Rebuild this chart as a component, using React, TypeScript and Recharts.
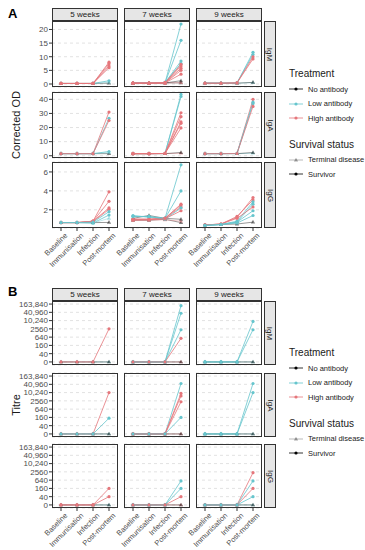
import { LineChart, Line, XAxis, YAxis, CartesianGrid } from 'recharts';

// treatment (N = no, L = low, H = high antibody), survival (T = terminal disease, S = survivor),
// then Baseline, Immunisation, Infection, Post-mortem
type Row = [string, string, number, number, number, number];

const stages = ['Baseline', 'Immunisation', 'Infection', 'Post-mortem'];
const weekLabels = ['5 weeks', '7 weeks', '9 weeks'];
const isotypes = ['IgM', 'IgA', 'IgG'];

// A: corrected OD
const odIgM5: Row[] = [
  ['N', 'T', 0.2, 0.2, 0.2, 0.3],
  ['L', 'T', 0.2, 0.2, 0.2, 0.6],
  ['L', 'S', 0.2, 0.2, 0.2, 1.2],
  ['H', 'S', 0.2, 0.2, 0.2, 8.0],
  ['H', 'S', 0.2, 0.2, 0.2, 7.4],
  ['H', 'S', 0.2, 0.2, 0.2, 6.6],
  ['H', 'S', 0.2, 0.2, 0.2, 6.0],
];
const odIgM7: Row[] = [
  ['N', 'T', 0.3, 0.3, 0.4, 0.4],
  ['H', 'T', 0.3, 0.3, 0.4, 0.5],
  ['N', 'T', 0.3, 0.3, 0.4, 1.2],
  ['L', 'S', 0.3, 0.3, 0.4, 22],
  ['L', 'S', 0.3, 0.3, 0.4, 16],
  ['L', 'S', 0.3, 0.3, 0.5, 8.4],
  ['L', 'S', 0.3, 0.3, 0.5, 7.5],
  ['H', 'S', 0.3, 0.3, 0.4, 7.2],
  ['H', 'S', 0.3, 0.3, 0.4, 6.6],
  ['H', 'S', 0.3, 0.3, 0.4, 5.8],
  ['H', 'S', 0.3, 0.3, 0.4, 5.0],
  ['H', 'S', 0.3, 0.3, 0.4, 3.6],
];
const odIgM9: Row[] = [
  ['L', 'T', 0.3, 0.3, 0.3, 0.5],
  ['N', 'T', 0.3, 0.3, 0.3, 0.6],
  ['L', 'S', 0.3, 0.3, 0.4, 11.6],
  ['L', 'S', 0.3, 0.3, 0.4, 10.8],
  ['H', 'S', 0.3, 0.3, 0.4, 10.0],
  ['H', 'S', 0.3, 0.3, 0.4, 9.2],
];
const odIgA5: Row[] = [
  ['N', 'T', 1.5, 1.5, 1.5, 1.5],
  ['L', 'T', 1.5, 1.5, 1.5, 2.2],
  ['L', 'S', 1.5, 1.5, 1.5, 3.0],
  ['H', 'S', 1.5, 1.5, 1.5, 31],
  ['L', 'S', 1.5, 1.5, 1.5, 26.5],
  ['H', 'S', 1.5, 1.5, 1.5, 25],
];
const odIgA7: Row[] = [
  ['H', 'T', 1.5, 1.5, 1.5, 1.8],
  ['N', 'T', 1.5, 1.5, 1.5, 2.3],
  ['L', 'S', 1.5, 1.5, 1.6, 43.5],
  ['L', 'S', 1.5, 1.5, 1.6, 42],
  ['H', 'S', 1.5, 1.5, 1.6, 30.5],
  ['H', 'S', 1.5, 1.5, 1.6, 27.7],
  ['H', 'S', 1.5, 1.5, 1.6, 24],
  ['H', 'S', 1.5, 1.5, 1.6, 23],
  ['H', 'S', 1.5, 1.5, 1.6, 19.7],
];
const odIgA9: Row[] = [
  ['L', 'T', 1.5, 1.5, 1.5, 1.8],
  ['N', 'T', 1.5, 1.5, 1.5, 2.3],
  ['H', 'S', 1.5, 1.5, 1.6, 40],
  ['L', 'S', 1.5, 1.5, 1.6, 38],
  ['L', 'S', 1.5, 1.5, 1.6, 37],
  ['H', 'S', 1.5, 1.5, 1.6, 35],
];
const odIgG5: Row[] = [
  ['N', 'T', 0.65, 0.65, 0.65, 0.67],
  ['L', 'T', 0.65, 0.65, 0.6, 1.1],
  ['H', 'S', 0.65, 0.65, 0.8, 3.9],
  ['H', 'S', 0.65, 0.65, 0.8, 2.9],
  ['H', 'S', 0.65, 0.65, 0.8, 2.2],
  ['H', 'S', 0.65, 0.65, 0.75, 2.05],
  ['L', 'S', 0.65, 0.65, 0.7, 1.8],
  ['L', 'S', 0.65, 0.65, 0.6, 1.45],
];
const odIgG7: Row[] = [
  ['N', 'T', 0.9, 0.9, 1.0, 0.65],
  ['H', 'T', 0.9, 0.9, 0.95, 0.8],
  ['N', 'T', 1.1, 1.4, 1.1, 1.0],
  ['L', 'S', 1.3, 1.3, 1.1, 6.75],
  ['L', 'S', 1.4, 1.2, 1.1, 4.0],
  ['H', 'S', 1.0, 1.0, 1.1, 2.6],
  ['H', 'S', 1.0, 1.0, 1.1, 2.5],
  ['H', 'S', 1.0, 1.0, 1.1, 2.3],
  ['L', 'S', 1.3, 1.3, 1.0, 2.2],
  ['H', 'S', 0.9, 0.95, 1.05, 1.9],
];
const odIgG9: Row[] = [
  ['N', 'T', 0.4, 0.45, 0.5, 0.7],
  ['H', 'S', 0.4, 0.5, 1.2, 3.3],
  ['H', 'S', 0.4, 0.5, 1.3, 3.05],
  ['L', 'S', 0.35, 0.45, 0.8, 2.85],
  ['L', 'S', 0.35, 0.45, 0.7, 2.6],
  ['H', 'S', 0.4, 0.5, 1.1, 2.3],
  ['L', 'S', 0.35, 0.45, 0.7, 1.9],
  ['L', 'S', 0.35, 0.45, 0.6, 1.4],
];

// B: titres
const tIgM5: Row[] = [
  ['L', 'T', 0, 0, 0, 0],
  ['N', 'T', 0, 0, 0, 0],
  ['H', 'S', 0, 0, 0, 2560],
];
const tIgM7: Row[] = [
  ['H', 'T', 0, 0, 0, 0],
  ['N', 'T', 0, 0, 0, 0],
  ['L', 'S', 0, 0, 0, 124000],
  ['L', 'S', 0, 0, 0, 35000],
  ['L', 'S', 0, 0, 0, 2200],
  ['H', 'S', 0, 0, 0, 520],
];
const tIgM9: Row[] = [
  ['L', 'T', 0, 0, 0, 0],
  ['N', 'T', 0, 0, 0, 0],
  ['L', 'S', 0, 0, 0, 8900],
  ['L', 'S', 0, 0, 0, 2200],
];
const tIgA5: Row[] = [
  ['L', 'T', 0, 0, 0, 0],
  ['N', 'T', 0, 0, 0, 0],
  ['H', 'S', 0, 0, 0, 10240],
  ['L', 'S', 0, 0, 0, 140],
];
const tIgA7: Row[] = [
  ['H', 'T', 0, 0, 0, 0],
  ['N', 'T', 0, 0, 0, 0],
  ['L', 'S', 0, 0, 0, 47000],
  ['H', 'S', 0, 0, 0, 8900],
  ['H', 'S', 0, 0, 0, 5900],
  ['H', 'S', 0, 0, 0, 2200],
  ['L', 'S', 0, 0, 0, 160],
];
const tIgA9: Row[] = [
  ['L', 'T', 0, 0, 0, 0],
  ['N', 'T', 0, 0, 0, 0],
  ['L', 'S', 0, 0, 0, 47000],
  ['L', 'S', 0, 0, 0, 10240],
];
const tIgG5: Row[] = [
  ['L', 'T', 0, 0, 0, 0],
  ['N', 'T', 0, 0, 0, 0],
  ['H', 'S', 0, 0, 0, 160],
  ['H', 'S', 0, 0, 0, 40],
];
const tIgG7: Row[] = [
  ['H', 'T', 0, 0, 0, 0],
  ['N', 'T', 0, 0, 0, 0],
  ['L', 'S', 0, 0, 0, 560],
  ['L', 'S', 0, 0, 0, 160],
  ['H', 'S', 0, 0, 0, 40],
];
const tIgG9: Row[] = [
  ['L', 'T', 0, 0, 0, 0],
  ['N', 'T', 0, 0, 0, 0],
  ['H', 'S', 0, 0, 0, 2230],
  ['L', 'S', 0, 0, 0, 560],
  ['H', 'S', 0, 0, 0, 160],
  ['L', 'S', 0, 0, 0, 40],
];

const odTicks = [[0, 5, 10, 15, 20], [0, 10, 20, 30, 40], [2, 4, 6]];
const odDomains = [[-1.1, 23.1], [-1.6, 45.2], [0.08, 7.05]];
const titreTicks = [0, 40, 160, 640, 2560, 10240, 40960, 163840];
const titreLabels = ['0', '40', '160', '640', '2560', '10,240', '40,960', '163,840'];

const treatments = [
  { key: 'N', name: 'No antibody', color: '#000000' },
  { key: 'L', name: 'Low antibody', color: '#66C5CD' },
  { key: 'H', name: 'High antibody', color: '#E5767B' },
];
const colorOf = (k: string) => treatments.find((t) => t.key === k)!.color;

// titre axis is stepped in fourfold dilutions starting from 10, with 0 at the bottom
const titreStep = (v: number) => (v <= 0 ? 0 : Math.log(v / 10) / Math.log(4));

const colX = [52, 124, 196];
const panelW = 66;
const yAxisW = 52;
const xAxisH = 62;
const padTop = 6;
const padLeft = 40; // room for rotated stage labels of the panels without a y axis
const font = '"Liberation Sans", Arial, sans-serif';

const makeDot = (color: string, tri: boolean, op: number) => (p: any) => {
  const { cx, cy, index } = p;
  if (cx == null || cy == null) return <g key={index} />;
  return tri ? (
    <polygon
      key={index}
      points={`${cx},${cy - 2.3} ${cx - 2.1},${cy + 1.4} ${cx + 2.1},${cy + 1.4}`}
      fill={color}
      fillOpacity={op}
    />
  ) : (
    <circle key={index} cx={cx} cy={cy} r={1.6} fill={color} fillOpacity={op} />
  );
};

const StageTick = (p: any) => {
  const { x, y, payload } = p;
  return (
    <text
      x={x + 3}
      y={y + 1}
      transform={`rotate(-45 ${x + 3} ${y + 1})`}
      textAnchor="end"
      dominantBaseline="hanging"
      fontSize={7.5}
      fill="#4d4d4d"
      fontFamily={font}
    >
      {payload.value}
    </text>
  );
};

type PanelProps = {
  rows: Row[];
  x: number;
  y: number;
  h: number;
  showY: boolean;
  showX: boolean;
  domain: number[];
  ticks: number[];
  tf: (v: number) => number;
  fmt: (v: number) => string;
};

function Panel({ rows, x, y, h, showY, showX, domain, ticks, tf, fmt }: PanelProps) {
  const data = stages.map((stage, si) => {
    const o: any = { stage };
    rows.forEach((r, i) => {
      o[`s${i}`] = tf(r[si + 2] as number);
    });
    return o;
  });
  const mLeft = showY ? 0 : padLeft;
  const left = x - (showY ? yAxisW : padLeft);
  const width = panelW + (showY ? yAxisW : padLeft) + 2;
  const height = h + padTop * 2 + (showX ? xAxisH : 0);
  return (
    <>
      <div style={{ position: 'absolute', left, top: y - padTop }}>
        <LineChart
          width={width}
          height={height}
          data={data}
          margin={{ top: padTop, right: 2, bottom: padTop, left: mLeft }}
        >
          <CartesianGrid vertical={false} stroke="#e2e2e2" strokeDasharray="3 3" />
          <XAxis
            dataKey="stage"
            type="category"
            padding={{ left: 9, right: 9 }}
            hide={!showX}
            height={xAxisH}
            interval={0}
            tick={<StageTick />}
            tickSize={3}
            tickMargin={0}
            axisLine={false}
            tickLine={{ stroke: '#333' }}
          />
          <YAxis
            type="number"
            domain={domain}
            ticks={ticks}
            allowDataOverflow
            interval={0}
            hide={!showY}
            width={yAxisW}
            tickSize={3}
            tickMargin={1}
            axisLine={false}
            tickLine={{ stroke: '#333' }}
            tick={{ fontSize: 8, fill: '#4d4d4d', fontFamily: font }}
            tickFormatter={fmt}
          />
          {rows.map((r, i) => {
            const c = colorOf(r[0]);
            const term = r[1] === 'T';
            const op = term ? 0.5 : 1;
            return (
              <Line
                key={i}
                dataKey={`s${i}`}
                stroke={c}
                strokeOpacity={op}
                strokeWidth={0.8}
                dot={makeDot(c, term, op)}
                activeDot={false}
                isAnimationActive={false}
              />
            );
          })}
        </LineChart>
      </div>
      <div
        style={{
          position: 'absolute',
          left: x,
          top: y,
          width: panelW,
          height: h,
          border: '1px solid #333',
          boxSizing: 'border-box',
          pointerEvents: 'none',
        }}
      />
    </>
  );
}

const stripStyle = {
  position: 'absolute' as const,
  background: '#e6e6e6',
  border: '1px solid #333',
  boxSizing: 'border-box' as const,
  fontSize: 8,
  color: '#1a1a1a',
  display: 'flex',
  alignItems: 'center',
  justifyContent: 'center',
};

type SectionProps = {
  letter: string;
  top: number;
  rowsY: number[];
  h: number;
  grid: Row[][][];
  titre: boolean;
  title: string;
};

function Section({ letter, top, rowsY, h, grid, titre, title }: SectionProps) {
  const yMid = (rowsY[0] + rowsY[2] + h) / 2;
  return (
    <>
      <div style={{ position: 'absolute', left: 8, top, fontSize: 13, fontWeight: 'bold' }}>{letter}</div>
      <div
        style={{
          position: 'absolute',
          left: 16,
          top: yMid,
          transform: 'translate(-50%, -50%) rotate(-90deg)',
          fontSize: 11,
          whiteSpace: 'nowrap',
          color: '#1a1a1a',
        }}
      >
        {title}
      </div>
      {isotypes.map((iso, ri) =>
        weekLabels.map((w, ci) => (
          <Panel
            key={`${iso}-${w}`}
            rows={grid[ri][ci]}
            x={colX[ci]}
            y={rowsY[ri]}
            h={h}
            showY={ci === 0}
            showX={ri === 2}
            domain={titre ? [-0.37, 7.37] : odDomains[ri]}
            ticks={titre ? titreTicks.map((_, i) => i) : odTicks[ri]}
            tf={titre ? titreStep : (v) => v}
            fmt={titre ? (v) => titreLabels[v] ?? '' : (v) => String(v)}
          />
        ))
      )}
      {weekLabels.map((w, ci) => (
        <div key={w} style={{ ...stripStyle, left: colX[ci], top: rowsY[0] - 13, width: panelW, height: 13 }}>
          {w}
        </div>
      ))}
      {isotypes.map((iso, ri) => (
        <div key={iso} style={{ ...stripStyle, left: 264, top: rowsY[ri], width: 12, height: h }}>
          <span style={{ transform: 'rotate(90deg)', whiteSpace: 'nowrap' }}>{iso}</span>
        </div>
      ))}
    </>
  );
}

function LegendGlyph({ color, tri, op }: { color: string; tri: boolean; op: number }) {
  return (
    <svg width={14} height={8} style={{ marginRight: 5, flexShrink: 0 }}>
      <line x1={0} y1={4} x2={14} y2={4} stroke={color} strokeOpacity={op} strokeWidth={0.8} />
      {tri ? (
        <polygon points="7,1.7 4.9,5.4 9.1,5.4" fill={color} fillOpacity={op} />
      ) : (
        <circle cx={7} cy={4} r={1.6} fill={color} fillOpacity={op} />
      )}
    </svg>
  );
}

function Legend({ top }: { top: number }) {
  const item = {
    display: 'flex',
    alignItems: 'center',
    height: 14.5,
    fontSize: 7.5,
    color: '#1a1a1a',
    whiteSpace: 'nowrap' as const,
  };
  return (
    <div style={{ position: 'absolute', left: 289, top, width: 76 }}>
      <div style={{ fontSize: 10, marginBottom: 3, color: '#1a1a1a', whiteSpace: 'nowrap' }}>Treatment</div>
      {treatments.map((t) => (
        <div key={t.key} style={item}>
          <LegendGlyph color={t.color} tri={false} op={1} />
          {t.name}
        </div>
      ))}
      <div style={{ fontSize: 10, marginTop: 13, marginBottom: 3, color: '#1a1a1a', whiteSpace: 'nowrap' }}>
        Survival status
      </div>
      <div style={item}>
        <LegendGlyph color="#000" tri op={0.35} />
        Terminal disease
      </div>
      <div style={item}>
        <LegendGlyph color="#000" tri={false} op={1} />
        Survivor
      </div>
    </div>
  );
}

export default function App() {
  const gridA = [
    [odIgM5, odIgM7, odIgM9],
    [odIgA5, odIgA7, odIgA9],
    [odIgG5, odIgG7, odIgG9],
  ];
  const gridB = [
    [tIgM5, tIgM7, tIgM9],
    [tIgA5, tIgA7, tIgA9],
    [tIgG5, tIgG7, tIgG9],
  ];
  return (
    <div style={{ position: 'relative', width: 365, height: 550, fontFamily: font, background: '#fff', overflow: 'hidden' }}>
      <style>{'body{margin:0}'}</style>
      <Section letter="A" top={6} rowsY={[21, 92, 162]} h={66} grid={gridA} titre={false} title="Corrected OD" />
      <Section letter="B" top={284} rowsY={[301, 373, 444]} h={64} grid={gridB} titre title="Titre" />
      <Legend top={68} />
      <Legend top={347} />
    </div>
  );
}
